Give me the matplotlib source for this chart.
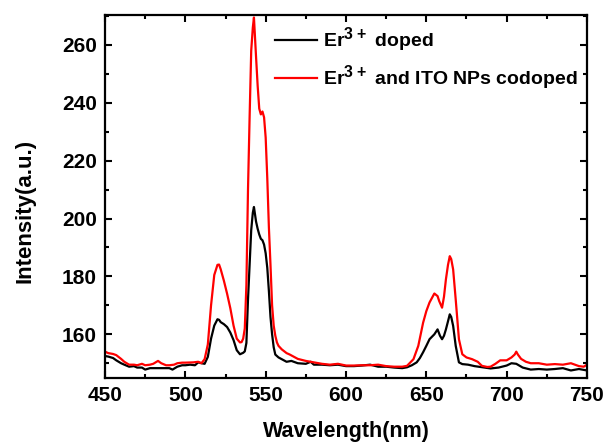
import matplotlib
matplotlib.use("Agg")
import matplotlib.pyplot as plt
from matplotlib.ticker import MultipleLocator
try:
    import matplotlib._mathtext as _mt
    _mt.SHRINK_FACTOR = 0.82
except Exception:
    pass

plt.rcParams['font.family'] = ['Liberation Sans', 'DejaVu Sans']
plt.rcParams['font.weight'] = 'bold'
plt.rcParams['mathtext.fontset'] = 'custom'
plt.rcParams['mathtext.rm'] = 'Liberation Sans:bold'
plt.rcParams['mathtext.bf'] = 'Liberation Sans:bold'
plt.rcParams['mathtext.default'] = 'bf'

# Er3+ doped (black)
wl_black = [450, 452, 455, 457, 460, 462, 465, 468, 470, 473, 475, 478, 480, 485, 490, 492, 495, 498,
            500, 503, 506, 508, 510, 512, 514, 516, 518, 520, 521, 522, 524, 526, 528, 530, 532, 534,
            536, 537, 538, 539, 540, 541, 542, 542.7, 544, 545, 546, 547, 548, 549, 550, 551, 552, 553,
            554, 555, 556, 558, 560, 563, 566, 570, 575, 578, 580, 585, 590, 595, 600, 605, 610, 615,
            620, 625, 630, 635, 638, 641, 644, 646, 648, 650, 652, 655, 657, 658.5, 659.8, 661, 662.2,
            663.5, 664.6, 665.5, 666.7, 668.3, 670.3, 672.4, 676, 680, 685, 690, 695, 700, 703, 706,
            710, 715, 720, 725, 730, 735, 740, 745, 750]
int_black = [152.5, 152.3, 151.8, 151.0, 150.0, 149.5, 148.8, 149.0, 148.5, 148.5, 147.8, 148.3, 148.3,
             148.3, 148.3, 147.8, 148.8, 149.3, 149.3, 149.5, 149.3, 150.3, 150.0, 149.8, 152.2, 158.5,
             163.0, 165.2, 165.0, 164.2, 163.5, 162.5, 160.6, 158.0, 154.5, 153.1, 153.6, 154.1, 157.0,
             172.0, 184.0, 196.0, 202.0, 204.0, 199.0, 196.5, 194.5, 193.0, 192.5, 191.0, 188.0, 183.0,
             175.0, 166.0, 160.0, 155.5, 153.0, 152.0, 151.4, 150.5, 150.8, 150.0, 149.8, 150.5, 149.5,
             149.5, 149.3, 149.5, 149.0, 149.0, 149.2, 149.5, 148.8, 148.8, 148.5, 148.3, 148.6, 149.3,
             150.3, 151.8, 153.8, 156.0, 158.3, 160.0, 161.7, 159.5, 158.3, 159.5, 161.7, 164.5, 166.9,
             166.0, 162.9, 156.0, 150.3, 149.7, 149.5, 149.0, 148.6, 148.2, 148.5, 149.2, 150.0, 149.8,
             148.5, 147.8, 148.0, 147.8, 148.0, 148.3, 147.5, 148.0, 147.5]

# Er3+ and ITO NPs codoped (red)
wl_red = [450, 452, 455, 457, 460, 462, 465, 468, 470, 473, 475, 478, 480, 483, 485, 488, 490, 493, 495,
          498, 500, 505, 508, 510, 512, 514, 516, 518, 520, 521, 522, 524, 526, 528, 530, 532, 534, 535,
          536, 537, 538, 539, 540, 541, 542, 542.7, 544, 545, 546, 547, 548, 549, 550, 551, 552, 553,
          554, 555, 556, 557, 558, 560, 563, 565, 570, 575, 580, 585, 590, 595, 600, 605, 610, 615, 620,
          625, 630, 635, 638, 642, 645, 648, 650, 652, 655, 657, 658, 659.8, 661, 662.2, 663.5, 664.6,
          665.5, 666.7, 668.3, 670.3, 672.4, 675, 678.5, 682, 684.6, 688, 690, 693, 696, 700, 703, 705,
          706, 707, 709, 712, 715, 720, 725, 730, 735, 740, 745, 748, 750]
int_red = [154.0, 153.5, 153.2, 152.8, 151.5, 150.5, 149.5, 149.5, 149.3, 149.8, 149.3, 149.5, 149.8,
           150.8, 150.0, 149.3, 149.3, 149.5, 150.0, 150.2, 150.2, 150.3, 150.5, 150.0, 151.4, 156.5,
           170.0, 180.5, 184.0, 184.1, 182.5, 178.5, 174.0, 169.0, 163.0, 158.5, 157.2, 157.3, 158.5,
           162.0, 177.0, 210.0, 235.0, 258.0, 266.0, 269.5, 256.0, 246.0, 238.0, 236.0, 237.0, 235.0,
           228.0, 214.0, 197.0, 184.0, 170.0, 163.0, 159.5, 157.2, 156.0, 154.8, 153.5, 153.0, 151.5,
           150.8, 150.3, 149.8, 149.5, 149.8, 149.2, 149.2, 149.3, 149.3, 149.5, 149.0, 148.8, 148.8,
           149.1, 151.4, 156.0, 164.0, 168.0, 171.0, 174.1, 173.2, 171.5, 169.2, 173.0, 179.0, 184.0,
           187.0, 186.0, 182.4, 172.0, 158.3, 153.1, 152.0, 151.4, 150.5, 149.1, 148.7, 148.8, 149.8,
           151.0, 151.0, 152.0, 153.0, 154.0, 153.0, 151.5, 150.5, 150.0, 150.0, 149.5, 149.7, 149.5,
           150.0, 149.0, 148.8, 149.5]

labels = ['Er$^{3+}$ doped', 'Er$^{3+}$ and ITO NPs codoped']

fig = plt.figure(figsize=(6.12, 4.46), dpi=100)
ax = fig.add_axes([0.1716, 0.1525, 0.7875, 0.8135])

ax.plot(wl_black, int_black, color='black', lw=1.6, label=labels[0])
ax.plot(wl_red, int_red, color='#ff0000', lw=1.6, label=labels[1])

ax.set_xlim(450, 750)
ax.set_ylim(144.9, 270.3)
ax.xaxis.set_major_locator(MultipleLocator(50))
ax.xaxis.set_minor_locator(MultipleLocator(25))
ax.set_yticks([160, 180, 200, 220, 240, 260])
ax.yaxis.set_minor_locator(MultipleLocator(10))

ax.tick_params(which='both', direction='in', top=True, right=True, width=1.5)
ax.tick_params(which='major', length=5, labelsize=15, pad=6)
ax.tick_params(which='minor', length=3)
for lab in ax.get_xticklabels() + ax.get_yticklabels():
    lab.set_fontweight('bold')
for s in ax.spines.values():
    s.set_linewidth(1.6)

ax.set_xlabel('Wavelength(nm)', fontsize=15.5, fontweight='bold', labelpad=11)
ax.set_ylabel('Intensity(a.u.)', fontsize=16, fontweight='bold')
ax.yaxis.set_label_coords(-0.145, 0.46)

leg = ax.legend(loc='upper left', bbox_to_anchor=(0.353, 0.972), frameon=False,
                prop={'weight': 'bold', 'size': 14}, handlelength=2.15, handletextpad=0.3,
                labelspacing=0.5, borderaxespad=0.0, borderpad=0.0)

fig.savefig('out.png', dpi=100)
